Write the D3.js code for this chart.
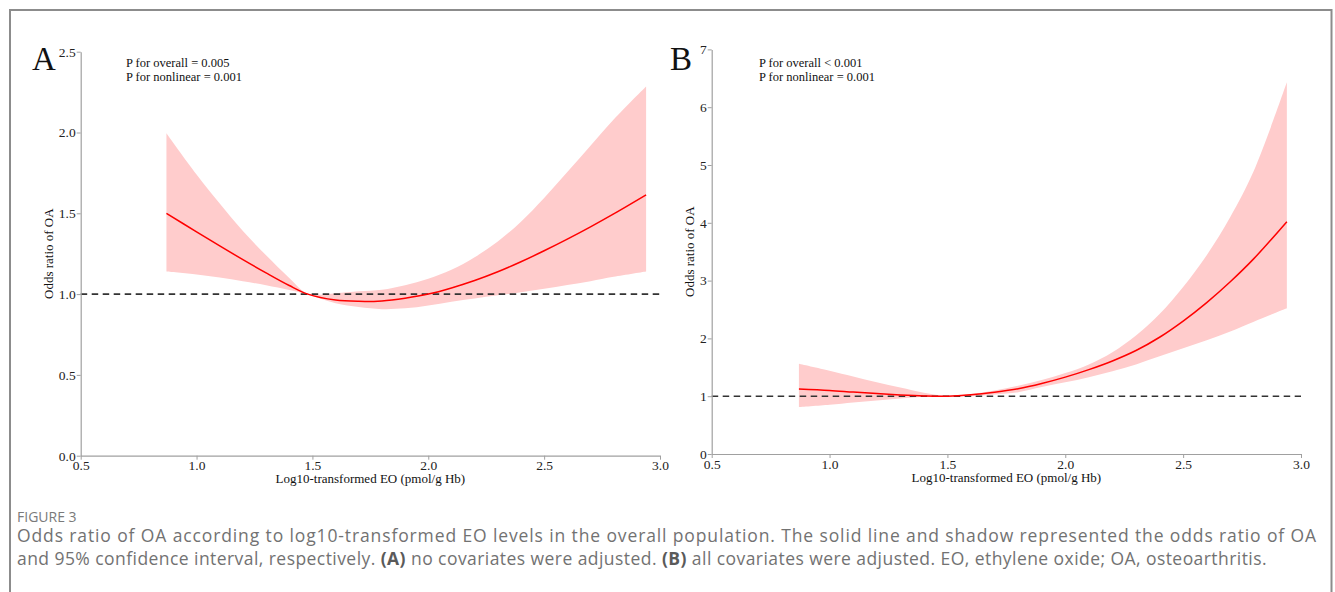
<!DOCTYPE html>
<html>
<head>
<meta charset="utf-8">
<script src="https://cdn.jsdelivr.net/npm/d3@7"></script>
<style>
  html, body { margin: 0; padding: 0; background: #fff; }
  svg { display: block; }
</style>
</head>
<body>
<svg id="fig" width="1335" height="592"></svg>
<script>
// ---------------- data ----------------
const xTickValues = [0.5, 1.0, 1.5, 2.0, 2.5, 3.0];
const yTicksA = [0, 0.5, 1.0, 1.5, 2.0, 2.5];
const yTicksB = [0, 1, 2, 3, 4, 5, 6, 7];

const xA = [0.87, 1.0, 1.1, 1.2, 1.3, 1.4, 1.48, 1.6, 1.7, 1.8, 1.9, 2.0, 2.1, 2.2, 2.3, 2.4, 2.5, 2.6, 2.7, 2.8, 2.94];
const orA    = [1.500, 1.385, 1.298, 1.213, 1.131, 1.053, 1.000, 0.963, 0.955, 0.958, 0.975, 1.000, 1.038, 1.084, 1.138, 1.200, 1.268, 1.340, 1.416, 1.496, 1.614];
const upperA = [1.995, 1.740, 1.560, 1.390, 1.240, 1.100, 1.003, 1.006, 1.018, 1.027, 1.055, 1.095, 1.150, 1.228, 1.325, 1.448, 1.595, 1.755, 1.918, 2.080, 2.285];
const lowerA = [1.140, 1.122, 1.103, 1.080, 1.055, 1.025, 0.997, 0.943, 0.920, 0.907, 0.912, 0.930, 0.953, 0.973, 0.993, 1.012, 1.033, 1.056, 1.080, 1.107, 1.140];

const xB = [0.87, 1.0, 1.1, 1.2, 1.3, 1.4, 1.5, 1.6, 1.7, 1.8, 1.9, 2.0, 2.1, 2.2, 2.3, 2.4, 2.5, 2.6, 2.7, 2.8, 2.94];
const orB    = [1.125, 1.100, 1.072, 1.046, 1.022, 1.005, 1.000, 1.025, 1.070, 1.130, 1.220, 1.330, 1.460, 1.610, 1.790, 2.020, 2.300, 2.620, 2.980, 3.380, 4.020];
const upperB = [1.560, 1.440, 1.340, 1.240, 1.150, 1.060, 1.005, 1.040, 1.100, 1.180, 1.280, 1.400, 1.550, 1.760, 2.050, 2.420, 2.890, 3.440, 4.100, 4.900, 6.430];
const lowerB = [0.810, 0.850, 0.890, 0.925, 0.960, 0.990, 0.995, 1.000, 1.030, 1.070, 1.160, 1.240, 1.330, 1.430, 1.550, 1.690, 1.830, 1.970, 2.120, 2.290, 2.520];

const pTextA = ["P for overall = 0.005", "P for nonlinear = 0.001"];
const pTextB = ["P for overall < 0.001", "P for nonlinear = 0.001"];
const xTitle = "Log10-transformed EO (pmol/g Hb)";
const yTitle = "Odds ratio of OA";
const figLabel = "FIGURE 3";
const captionLines = [
  [{t: "Odds ratio of OA according to log10-transformed EO levels in the overall population. The solid line and shadow represented the odds ratio of OA", b: false}],
  [{t: "and 95% confidence interval, respectively. ", b: false}, {t: "(A)", b: true}, {t: " no covariates were adjusted. ", b: false}, {t: "(B)", b: true}, {t: " all covariates were adjusted. EO, ethylene oxide; OA, osteoarthritis.", b: false}]
];
const captionWidths = [1300, 1250];

// ---------------- drawing ----------------
const svg = d3.select("#fig");
const serif = "'Liberation Serif', 'DejaVu Serif', serif";

svg.append("rect").attr("x", 10).attr("y", 10).attr("width", 1321.5).attr("height", 620)
  .attr("fill", "none").attr("stroke", "#8c8c8c").attr("stroke-width", 2);

function panel(cfg) {
  const x = d3.scaleLinear().domain([0.5, 3.0]).range(cfg.xr);
  const y = d3.scaleLinear().domain(cfg.ydom).range(cfg.yr);
  const g = svg.append("g");
  const curve = d3.curveCatmullRom.alpha(0.5);

  const pts = cfg.xs.map((v, i) => ({x: v, m: cfg.m[i], lo: cfg.lo[i], hi: cfg.hi[i]}));

  g.append("path").datum(pts)
    .attr("fill", "#ffcccc")
    .attr("d", d3.area().curve(curve)
      .x(d => x(d.x)).y0(d => y(d.lo)).y1(d => y(d.hi)));

  // reference line at OR = 1
  g.append("line")
    .attr("x1", x(0.5)).attr("x2", x(3.0))
    .attr("y1", y(1)).attr("y2", y(1))
    .attr("stroke", "#333").attr("stroke-width", 1.6).attr("stroke-dasharray", "6.5,4.5");

  g.append("path").datum(pts)
    .attr("fill", "none").attr("stroke", "#ff0000").attr("stroke-width", 1.5)
    .attr("d", d3.line().curve(curve).x(d => x(d.x)).y(d => y(d.m)));

  // axes
  const xAxis = d3.axisBottom(x).tickValues(xTickValues).tickFormat(d3.format(".1f"))
    .tickSizeInner(4).tickSizeOuter(0).tickPadding(1);
  const gx = g.append("g").attr("transform", `translate(0,${cfg.yr[0]})`).call(xAxis);
  const yAxis = d3.axisLeft(y).tickValues(cfg.yticks).tickFormat(cfg.yfmt)
    .tickSizeInner(4).tickSizeOuter(0).tickPadding(1);
  const gy = g.append("g").attr("transform", `translate(${cfg.xr[0]},0)`).call(yAxis);
  [gx, gy].forEach(a => {
    a.selectAll("path.domain").attr("stroke", "#a0a0a0").attr("stroke-width", 1.2);
    a.selectAll(".tick line").attr("stroke", "#a0a0a0");
    a.selectAll(".tick text").attr("fill", "#222").style("font-family", serif).style("font-size", "13.5px");
  });

  // titles
  g.append("text").attr("x", (cfg.xr[0] + cfg.xr[1]) / 2).attr("y", cfg.yr[0] + 27.5)
    .attr("text-anchor", "middle").style("font-family", serif).style("font-size", "13px")
    .attr("fill", "#111").text(xTitle);
  g.append("text")
    .attr("transform", `translate(${cfg.ytx},${(cfg.yr[0] + cfg.yr[1]) / 2}) rotate(-90)`)
    .attr("text-anchor", "middle").style("font-family", serif).style("font-size", "13px")
    .attr("fill", "#111").text(yTitle);

  // panel letter
  g.append("text").attr("x", cfg.lx).attr("y", 70)
    .style("font-family", serif).style("font-size", "33px").attr("fill", "#111").text(cfg.letter);

  // p-values
  cfg.ptext.forEach((t, i) => {
    g.append("text").attr("x", cfg.px).attr("y", 67 + i * 13.5)
      .style("font-family", serif).style("font-size", "12.5px").attr("fill", "#111").text(t);
  });
}

panel({xr: [80.7, 660], yr: [455.7, 51.7], ydom: [0, 2.5], yticks: yTicksA, yfmt: d3.format(".1f"),
       xs: xA, m: orA, lo: lowerA, hi: upperA, ytx: 53, lx: 32, letter: "A", px: 126, ptext: pTextA});
panel({xr: [711.7, 1301], yr: [454, 49.4], ydom: [0, 7], yticks: yTicksB, yfmt: d3.format("d"),
       xs: xB, m: orB, lo: lowerB, hi: upperB, ytx: 694, lx: 670, letter: "B", px: 759, ptext: pTextB});

// caption
const capFont = "'Open Sans', 'Noto Sans', sans-serif";
svg.append("text").attr("x", 17).attr("y", 521.5)
  .style("font-family", capFont).style("font-size", "14px").attr("fill", "#7a7a7a")
  .text(figLabel);

const capSize = 17.5;
captionLines.forEach((segs, i) => {
  const t = svg.append("text").attr("x", 17).attr("y", 542 + i * 23)
    .style("font-family", capFont).style("font-size", capSize + "px").attr("fill", "#727272");
  segs.forEach(s => {
    t.append("tspan").text(s.t)
      .attr("font-weight", s.b ? 700 : 400)
      .attr("fill", s.b ? "#5a5a5a" : "#727272");
  });
  // spread letters so each line spans the reference width
  const n = segs.map(s => s.t).join("").length;
  const w = t.node().getComputedTextLength();
  const ls = Math.max(0, (captionWidths[i] - w) / n);
  t.style("letter-spacing", ls + "px");
});
</script>
</body>
</html>
